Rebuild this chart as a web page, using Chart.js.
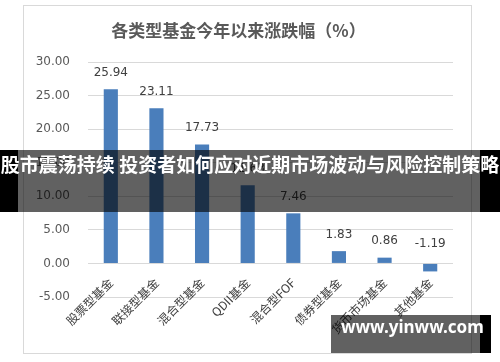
<!DOCTYPE html>
<html>
<head>
<meta charset="utf-8">
<script src="https://cdn.jsdelivr.net/npm/chart.js@4"></script>
<style>
  body { margin: 0; width: 500px; height: 362px; background: #fff; position: relative; overflow: hidden; }
  #box { position: absolute; left: 23px; top: 5px; width: 447px; height: 347px; border: 1px solid #d9d9d9; }
  #box canvas { display: block; }
  #banner { position: absolute; left: 0; top: 150px; width: 500px; height: 62px; background: rgba(0,0,0,0.62); }
  #banner .edge { position: absolute; top: 0; height: 62px; background: #000; }
  #banner .txt { position: absolute; left: -10px; width: 520px; top: 0; line-height: 62px; text-align: center;
    color: #fff; font: bold 19px "Noto Sans CJK SC", sans-serif; white-space: nowrap; }
  #mark { position: absolute; left: 331px; top: 315px; width: 160px; height: 38px; background: rgba(0,0,0,0.62); }
  #mark .edge { position: absolute; right: 0; top: 0; width: 11px; height: 38px; background: #000; }
  #mark .txt { position: absolute; left: 10px; top: 0; line-height: 38px; color: #fff; font: bold 17px "Noto Sans", sans-serif; }
</style>
</head>
<body>
<div id="box"><canvas id="chart" width="447" height="347"></canvas></div>
<div id="banner">
  <div class="edge" style="left:0;width:18px"></div>
  <div class="edge" style="left:480px;width:20px"></div>
  <div class="txt">股市震荡持续 投资者如何应对近期市场波动与风险控制策略</div>
</div>
<div id="mark"><div class="edge"></div><div class="txt">www.yinww.com</div></div>
<script>
const categories = ['股票型基金', '联接型基金', '混合型基金', 'QDII基金', '混合型FOF', '债券型基金', '货币市场基金', '其他基金'];
const changes = [25.94, 23.11, 17.73, 11.63, 7.46, 1.83, 0.86, -1.19];
const yMin = -5;
const yMax = 30;
const yStep = 5;

// numbers over the bars
const valueLabels = {
  id: 'valueLabels',
  afterDatasetsDraw(chart) {
    const ctx = chart.ctx;
    const zero = chart.scales.y.getPixelForValue(0);
    ctx.save();
    ctx.font = '12px "DejaVu Sans"';
    ctx.fillStyle = '#404040';
    ctx.textAlign = 'center';
    ctx.textBaseline = 'middle';
    chart.getDatasetMeta(0).data.forEach(function (bar, i) {
      const top = Math.min(bar.y, zero);
      ctx.fillText(changes[i].toFixed(2), bar.x, top - (changes[i] < 0 ? 20 : 16.5));
    });
    ctx.restore();
  }
};

new Chart(document.getElementById('chart'), {
  type: 'bar',
  data: {
    labels: categories,
    datasets: [{
      data: changes,
      backgroundColor: '#4a7ebb',
      barPercentage: 0.31,
      categoryPercentage: 1
    }]
  },
  options: {
    responsive: false,
    animation: false,
    layout: { padding: { right: 18, bottom: 56 } },
    plugins: {
      legend: { display: false },
      tooltip: { enabled: false },
      title: {
        display: true,
        text: '各类型基金今年以来涨跌幅（%）',
        color: '#595959',
        font: { family: '"Noto Sans CJK SC"', size: 17, weight: 'bold' },
        padding: { top: 14, bottom: 21.6 }
      }
    },
    scales: {
      x: {
        position: { y: 0 },
        grid: { display: false },
        border: { display: false },
        ticks: {
          color: '#404040',
          font: { family: '"Noto Sans CJK SC"', size: 12 },
          minRotation: 45,
          maxRotation: 45,
          autoSkip: false,
          padding: 4
        },
        afterFit: function (scale) { scale.height = 0; }
      },
      y: {
        min: yMin,
        max: yMax,
        grid: { color: '#d9d9d9', drawTicks: false },
        border: { display: false },
        ticks: {
          stepSize: yStep,
          padding: 18,
          color: '#595959',
          font: { family: '"DejaVu Sans"', size: 12 },
          callback: function (v) { return v.toFixed(2); }
        },
        afterFit: function (scale) { scale.width = 64; }
      }
    }
  },
  plugins: [valueLabels]
});
</script>
</body>
</html>
